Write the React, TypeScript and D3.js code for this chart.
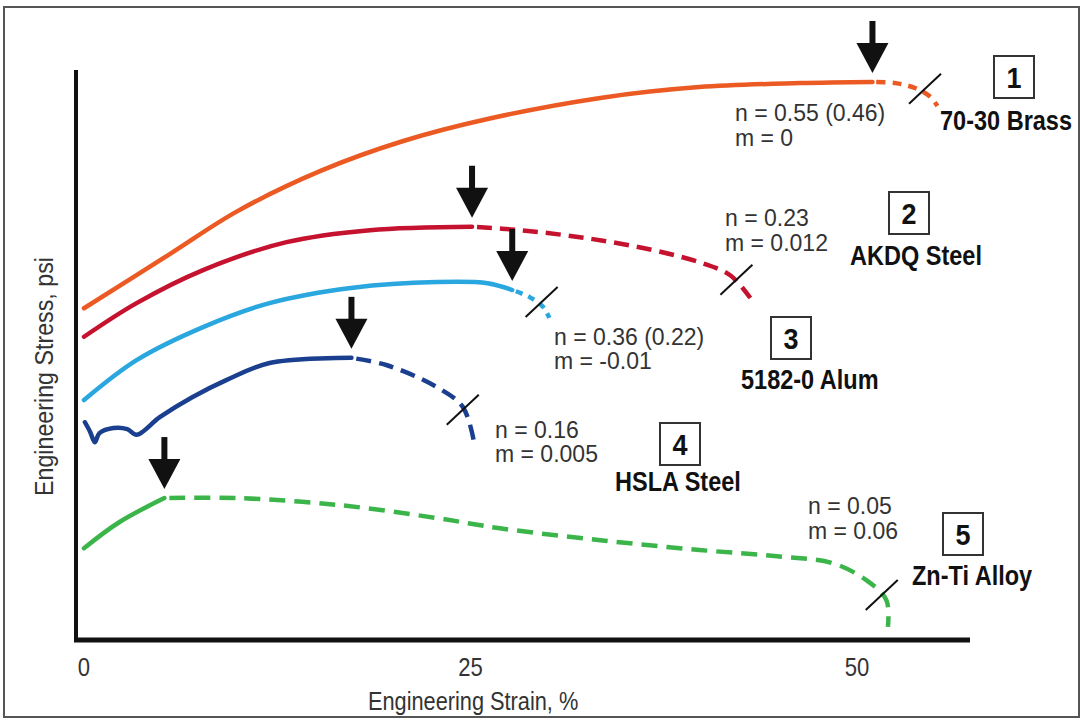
import React from "react";
import * as d3 from "d3";

const W = 1083;
const H = 720;

const strainTicks = [0, 25, 50];

// [engineering strain %, relative stress]
const brassSolid: [number, number][] = [
    [0, 58.2], [5.6, 67.8], [9.9, 75.2], [15.3, 82.3], [20.6, 87.5],
    [26.1, 91.4], [33.4, 95.1], [39.8, 97], [46.3, 97.7], [51, 97.9],
];
const brassDashed: [number, number][] = [
    [51, 97.9], [52.5, 97.7], [53.8, 96.8], [54.7, 95.4], [55.2, 93.7],
];

const akdqSolid: [number, number][] = [
    [0, 53.2], [3.4, 59.1], [7.7, 64.9], [13.1, 69.8], [18.5, 71.9], [25.1, 72.5],
];
const akdqDashed: [number, number][] = [
    [25.1, 72.5], [28.2, 71.9], [32.5, 70.5], [36.8, 68.4], [40, 66.1],
    [41.8, 64], [43.1, 60],
];

const alumSolid: [number, number][] = [
    [0, 42.1], [3.4, 49.1], [7.7, 54.9], [12, 59.1], [17.4, 61.8],
    [22.8, 62.8], [26.1, 62.6], [27.7, 61.4],
];
const alumDashed: [number, number][] = [
    [27.7, 61.4], [28.8, 60.2], [29.7, 58.4], [30.1, 56.5],
];

const hslaSolid: [number, number][] = [
    [0.06, 38.2], [0.4, 36.5], [0.7, 34.7], [1.0, 36.3], [1.9, 37.2],
    [2.8, 37], [3.4, 36], [4.9, 39.1], [7, 42.6], [9.2, 45.6],
    [12, 48.6], [17.3, 49.5],
];
const hslaDashed: [number, number][] = [
    [17.3, 49.5], [19.6, 48.2], [22.8, 44.4], [24.5, 40.9], [25.2, 35.1],
];

const znTiSolid: [number, number][] = [
    [0, 16.1], [2.3, 20.7], [5.2, 24.9],
];
const znTiDashed: [number, number][] = [
    [5.2, 24.9], [9.9, 24.9], [16.4, 23.7], [22.8, 21.4], [26.9, 19.6],
    [33.4, 17.5], [39.8, 15.8], [45.2, 14.6], [48.4, 13.5], [50.6, 10.5],
    [51.9, 7], [52, 2.3],
];

// fracture marks (centre of the short slash)
const fractureMarks: [number, number][] = [
    [54.4, 96.7], [42.2, 63.2], [29.6, 59.3], [24.5, 40.4], [51.6, 7.9],
];

const boxNumbers = ["1", "2", "3", "4", "5"];
const materials = ["70-30 Brass", "AKDQ Steel", "5182-0 Alum", "HSLA Steel", "Zn-Ti Alloy"];
const nLabels = ["n = 0.55 (0.46)", "n = 0.23", "n = 0.36 (0.22)", "n = 0.16", "n = 0.05"];
const mLabels = ["m = 0", "m = 0.012", "m = -0.01", "m = 0.005", "m = 0.06"];

const colors = ["#ec5a24", "#c4122f", "#2aa7df", "#1b3f8f", "#3bb54a"];

// text layout for each series
const layout = [
    { nx: 735, ny: 121, my: 146, bx: 994, by: 56, lx: 940, ly: 130 },
    { nx: 725, ny: 226, my: 251, bx: 889, by: 192, lx: 850, ly: 265 },
    { nx: 554, ny: 345, my: 369, bx: 771, by: 317, lx: 741, ly: 389 },
    { nx: 495, ny: 438, my: 462, bx: 660, by: 423, lx: 615, ly: 491 },
    { nx: 808, ny: 514, my: 539, bx: 943, by: 513, lx: 912, ly: 585 },
];

const series = [
    { solid: brassSolid, dashed: brassDashed, dash: "9 7", offset: 12 },
    { solid: akdqSolid, dashed: akdqDashed, dash: "15 8", offset: 18 },
    { solid: alumSolid, dashed: alumDashed, dash: "7 6", offset: 9 },
    { solid: hslaSolid, dashed: hslaDashed, dash: "15 8", offset: 18 },
    { solid: znTiSolid, dashed: znTiDashed, dash: "16 9", offset: 20 },
];

const FONT = "'Liberation Sans', Arial, sans-serif";

// condensed look: squeeze horizontally around the anchor x
const squeeze = (x0: number, k: number) => `translate(${x0},0) scale(${k},1) translate(${-x0},0)`;

export default function App() {
    const x = d3.scaleLinear().domain([0, 50]).range([84, 857]);
    const y = d3.scaleLinear().domain([0, 100]).range([640, 70]);

    const line = d3
        .line<[number, number]>()
        .x((d) => x(d[0]))
        .y((d) => y(d[1]))
        .curve(d3.curveCatmullRom.alpha(0.5));

    return (
        <div style={{ position: "absolute", left: 0, top: 0 }}>
            <svg width={W} height={H} viewBox={`0 0 ${W} ${H}`}>
                <rect x={4} y={7} width={1075} height={710} fill="#fff" stroke="#555" strokeWidth={2} />

                {/* axes */}
                <line x1={76} x2={76} y1={70} y2={642} stroke="#111" strokeWidth={4} />
                <line x1={74} x2={970} y1={640} y2={640} stroke="#111" strokeWidth={5} />

                {strainTicks.map((t) => (
                    <text key={t} x={x(t)} y={676} textAnchor="middle" fontFamily={FONT}
                        fontSize={26} fill="#333" transform={squeeze(x(t), 0.85)}>
                        {t}
                    </text>
                ))}
                <text x={368} y={710} fontFamily={FONT} fontSize={25} fill="#333"
                    transform={squeeze(368, 0.87)}>
                    Engineering Strain, %
                </text>
                <text transform="translate(53,496) rotate(-90) scale(0.93,1)" fontFamily={FONT}
                    fontSize={25} fill="#333">
                    Engineering Stress, psi
                </text>

                {/* curves */}
                {series.map((s, i) => (
                    <g key={i} fill="none" stroke={colors[i]} strokeWidth={4.5}>
                        <path d={line(s.solid) ?? ""} strokeLinecap="round" />
                        <path d={line(s.dashed) ?? ""} strokeDasharray={s.dash} strokeDashoffset={s.offset} />
                    </g>
                ))}

                {/* fracture marks */}
                {fractureMarks.map((d, i) => (
                    <line key={i} x1={x(d[0]) - 16} y1={y(d[1]) + 15} x2={x(d[0]) + 16} y2={y(d[1]) - 15}
                        stroke="#111" strokeWidth={2} />
                ))}

                {/* arrows at onset of necking */}
                {series.map((s, i) => {
                    const p = s.solid[s.solid.length - 1];
                    const ax = x(p[0]);
                    const tip = y(p[1]) - 9;
                    return (
                        <g key={i} fill="#111">
                            <rect x={ax - 3} y={tip - 52} width={6} height={25} />
                            <path d={`M${ax - 16},${tip - 30}L${ax + 16},${tip - 30}L${ax},${tip}Z`} />
                        </g>
                    );
                })}

                {/* annotations */}
                {layout.map((l, i) => (
                    <g key={i}>
                        <text x={l.nx} y={l.ny} fontFamily={FONT} fontSize={23} fill="#333">{nLabels[i]}</text>
                        <text x={l.nx} y={l.my} fontFamily={FONT} fontSize={23} fill="#333">{mLabels[i]}</text>
                        <rect x={l.bx} y={l.by} width={40} height={42} fill="#fff" stroke="#333" strokeWidth={2} />
                        <text x={l.bx + 20} y={l.by + 32} textAnchor="middle" fontFamily={FONT}
                            fontWeight="bold" fontSize={30} fill="#111" transform={squeeze(l.bx + 20, 0.9)}>
                            {boxNumbers[i]}
                        </text>
                        <text x={l.lx} y={l.ly} fontFamily={FONT} fontWeight="bold" fontSize={28} fill="#111"
                            transform={squeeze(l.lx, 0.84)}>
                            {materials[i]}
                        </text>
                    </g>
                ))}
            </svg>
        </div>
    );
}
